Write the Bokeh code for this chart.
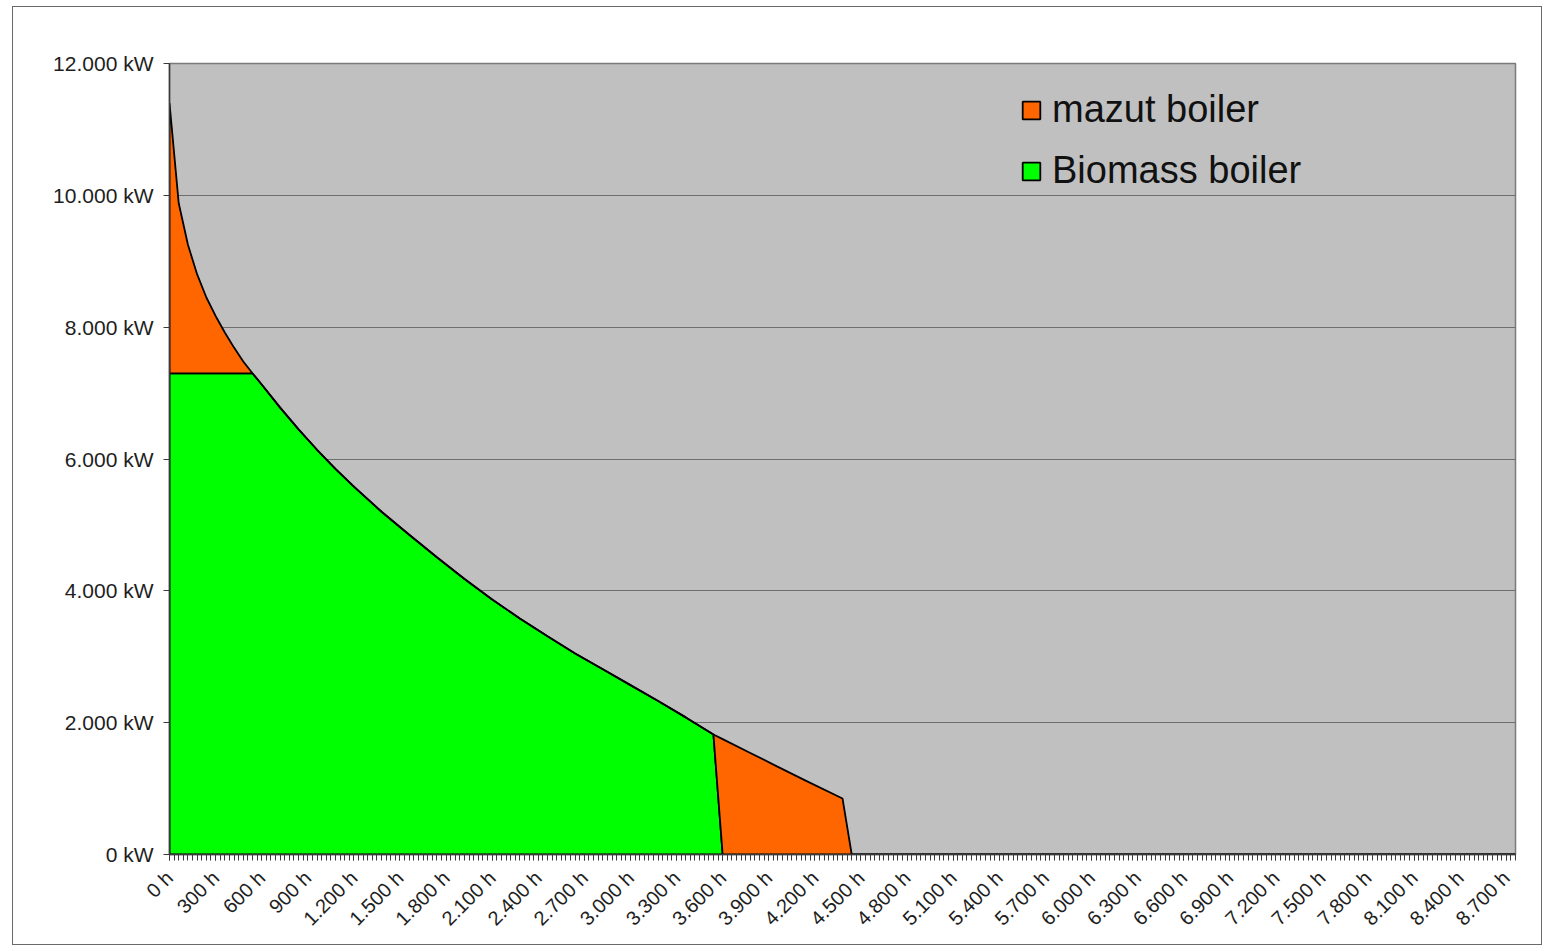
import math
from bokeh.plotting import figure
from bokeh.models import FixedTicker, Legend, LegendItem, Range1d
from bokeh.embed import file_html
from bokeh.resources import INLINE

# ---- data ----
hours = [0, 60, 120, 180, 240, 300, 360, 420, 480, 540,
         600, 720, 840, 960, 1080, 1200, 1380, 1560, 1740, 1920,
         2100, 2280, 2460, 2640, 2820, 3000, 3180, 3360, 3540,
         3600, 3780, 3960, 4140, 4380, 4440, 8760]
biomass_kw = [7300, 7300, 7300, 7300, 7300, 7300, 7300, 7300, 7300, 7300,
              7130, 6780, 6450, 6140, 5850, 5580, 5200, 4850, 4510, 4180,
              3870, 3580, 3310, 3050, 2810, 2570, 2330, 2080, 1820,
              0, 0, 0, 0, 0, 0, 0]
mazut_kw = [4100, 2580, 1950, 1500, 1150, 870, 620, 390, 180, 0,
            0, 0, 0, 0, 0, 0, 0, 0, 0, 0,
            0, 0, 0, 0, 0, 0, 0, 0, 0,
            1750, 1540, 1330, 1120, 850, 0, 0]
series_names = ["mazut boiler", "Biomass boiler"]

x_tick_values = [0, 300, 600, 900, 1200, 1500, 1800, 2100, 2400, 2700, 3000,
                 3300, 3600, 3900, 4200, 4500, 4800, 5100, 5400, 5700, 6000,
                 6300, 6600, 6900, 7200, 7500, 7800, 8100, 8400, 8700]
x_tick_labels = ["0 h", "300 h", "600 h", "900 h", "1.200 h", "1.500 h", "1.800 h",
                 "2.100 h", "2.400 h", "2.700 h", "3.000 h", "3.300 h", "3.600 h",
                 "3.900 h", "4.200 h", "4.500 h", "4.800 h", "5.100 h", "5.400 h",
                 "5.700 h", "6.000 h", "6.300 h", "6.600 h", "6.900 h", "7.200 h",
                 "7.500 h", "7.800 h", "8.100 h", "8.400 h", "8.700 h"]
y_tick_values = [0, 2000, 4000, 6000, 8000, 10000, 12000]
y_tick_labels = ["0 kW", "2.000 kW", "4.000 kW", "6.000 kW", "8.000 kW",
                 "10.000 kW", "12.000 kW"]

ORANGE = "#FF6600"
GREEN = "#00FF00"
FONT = "Liberation Sans"
TEXT = "#1e1e1e"

p = figure(width=1530, height=939,
           x_range=Range1d(0, 8760), y_range=Range1d(0, 12000),
           output_backend="svg", toolbar_location=None,
           min_border_left=156, min_border_right=28,
           min_border_top=56, min_border_bottom=92,
           background_fill_color="#C0C0C0", border_fill_color="white")
p.styles = {"border": "1px solid #6a6a6a", "margin": "6px 0 0 12px"}
p.outline_line_color = "#7a7a7a"
p.outline_line_width = 1.5

# stacked polygons
n = len(hours)
zeros = [0] * n
total = [b + m for b, m in zip(biomass_kw, mazut_kw)]
xs = hours + hours[::-1]
bio_r = p.patch(xs, biomass_kw + zeros[::-1], fill_color=GREEN,
                line_color="black", line_width=1.8)
maz_r = p.patch(xs, total + biomass_kw[::-1], fill_color=ORANGE,
                line_color="black", line_width=1.8)

# axes
p.xaxis.ticker = FixedTicker(ticks=x_tick_values,
                             minor_ticks=list(range(0, 8761, 30)))
p.xaxis.major_label_overrides = {v: l for v, l in zip(x_tick_values, x_tick_labels)}
p.xaxis.major_label_orientation = math.pi / 4
p.yaxis.ticker = FixedTicker(ticks=y_tick_values)
p.yaxis.major_label_overrides = {v: l for v, l in zip(y_tick_values, y_tick_labels)}

for ax in (p.xaxis[0], p.yaxis[0]):
    ax.axis_line_color = "#3a3a3a"
    ax.axis_line_width = 1.5
    ax.major_tick_line_color = "#3a3a3a"
    ax.major_tick_out = 6
    ax.major_tick_in = 0
    ax.major_label_text_font = FONT
    ax.major_label_text_color = TEXT
    ax.major_label_text_font_size = "21px"
p.xaxis.minor_tick_line_color = "#3a3a3a"
p.xaxis.minor_tick_out = 6
p.xaxis.minor_tick_in = 0
p.xaxis.major_label_standoff = 14
p.xaxis.major_label_text_font_size = "20px"
p.yaxis.minor_tick_line_color = None
p.yaxis.major_label_standoff = 10

p.xgrid.grid_line_color = None
p.ygrid.grid_line_color = "#6e6e6e"
p.ygrid.grid_line_width = 1.2

legend = Legend(items=[LegendItem(label=series_names[0], renderers=[maz_r]),
                       LegendItem(label=series_names[1], renderers=[bio_r])],
                location=(851, 662))
legend.background_fill_alpha = 0
legend.border_line_color = None
legend.label_text_font = FONT
legend.label_text_font_size = "38px"
legend.label_text_color = "#111111"
legend.glyph_width = 22
legend.glyph_height = 22
legend.label_height = 40
legend.label_standoff = 10
legend.spacing = 18
legend.padding = 0
legend.margin = 0
p.add_layout(legend, "center")

open("out.html", "w").write(file_html(p, INLINE))
